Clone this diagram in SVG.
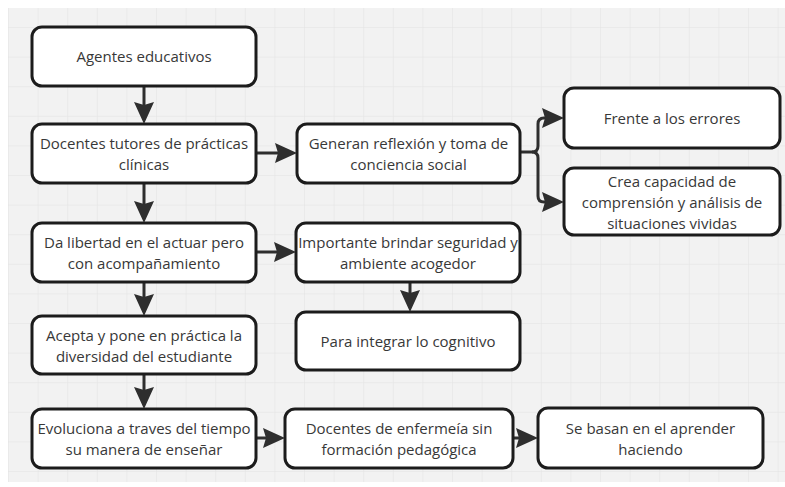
<svg xmlns="http://www.w3.org/2000/svg" width="785" height="487" viewBox="0 0 785 487">
  <defs>
    <pattern id="grid" x="8" y="27" width="29.6" height="29.6" patternUnits="userSpaceOnUse">
      <path d="M0,0 V29.6 M0,0 H29.6" fill="none" stroke="#e2e2e2" stroke-width="1"/>
    </pattern>
    <marker id="arrow" markerUnits="userSpaceOnUse" markerWidth="22" markerHeight="22" viewBox="0 0 22 22" refX="17" refY="11" orient="auto">
      <path d="M0,1 L22,11 L0,21 L3,11 Z" fill="#2e2e2e"/>
    </marker>
    <style>
      .box { fill: #ffffff; stroke: #1c1c1c; stroke-width: 3; }
      .lbl { font-family: "Open Sans", "Noto Sans", "DejaVu Sans", sans-serif; font-size: 15px; fill: #383838; text-anchor: middle; }
      .edge { fill: none; stroke: #2e2e2e; stroke-width: 3; marker-end: url(#arrow); }
      .trunk { fill: none; stroke: #2e2e2e; stroke-width: 3; }
    </style>
  </defs>

  <!-- canvas -->
  <rect x="0" y="0" width="785" height="487" fill="#ffffff"/>
  <rect x="8" y="8" width="777" height="474" fill="#f2f2f2"/>
  <rect x="8" y="8" width="777" height="474" fill="url(#grid)"/>

  <!-- connectors -->
  <g id="connectors">
    <path class="edge" d="M144,86 V119"/>
    <path class="edge" d="M144,183 V218"/>
    <path class="edge" d="M144,282 V311"/>
    <path class="edge" d="M144,374 V404"/>
    <path class="edge" d="M256,153 H292"/>
    <path class="edge" d="M256,252 H291"/>
    <path class="edge" d="M256,438 H280"/>
    <path class="edge" d="M513,438 H533"/>
    <path class="edge" d="M410,282 V307"/>
    <path class="trunk" d="M520,152 H532"/>
    <path class="edge" d="M532,152 Q538,152 538,146 V124 Q538,118 544,118 H559"/>
    <path class="edge" d="M532,152 Q538,152 538,158 V196 Q538,202 544,202 H559"/>
  </g>

  <!-- nodes -->
  <g id="n-agentes">
    <rect class="box" x="32" y="27" width="224" height="59" rx="10"/>
    <text class="lbl" x="144" y="62">Agentes educativos</text>
  </g>
  <g id="n-tutores">
    <rect class="box" x="32" y="124" width="224" height="59" rx="10"/>
    <text class="lbl" x="144" y="148.5">Docentes tutores de prácticas</text>
    <text class="lbl" x="144" y="170">clínicas</text>
  </g>
  <g id="n-libertad">
    <rect class="box" x="32" y="223" width="224" height="59" rx="10"/>
    <text class="lbl" x="144" y="247.5">Da libertad en el actuar pero</text>
    <text class="lbl" x="144" y="269">con acompañamiento</text>
  </g>
  <g id="n-acepta">
    <rect class="box" x="32" y="316" width="224" height="58" rx="10"/>
    <text class="lbl" x="144" y="340.5">Acepta y pone en práctica la</text>
    <text class="lbl" x="144" y="362">diversidad del estudiante</text>
  </g>
  <g id="n-evoluciona">
    <rect class="box" x="32" y="409" width="224" height="59" rx="10"/>
    <text class="lbl" x="144" y="433.5">Evoluciona a traves del tiempo</text>
    <text class="lbl" x="144" y="455">su manera de enseñar</text>
  </g>
  <g id="n-generan">
    <rect class="box" x="297" y="124" width="223" height="59" rx="10"/>
    <text class="lbl" x="408.5" y="148.5">Generan reflexión y toma de</text>
    <text class="lbl" x="408.5" y="170">conciencia social</text>
  </g>
  <g id="n-importante">
    <rect class="box" x="296" y="223" width="224" height="59" rx="10"/>
    <text class="lbl" x="408" y="247.5">Importante brindar seguridad y</text>
    <text class="lbl" x="408" y="269">ambiente acogedor</text>
  </g>
  <g id="n-integrar">
    <rect class="box" x="296" y="312" width="224" height="58" rx="10"/>
    <text class="lbl" x="408" y="346.5">Para integrar lo cognitivo</text>
  </g>
  <g id="n-enfermeria">
    <rect class="box" x="285" y="409" width="228" height="59" rx="10"/>
    <text class="lbl" x="399" y="433.5">Docentes de enfermeía sin</text>
    <text class="lbl" x="399" y="455">formación pedagógica</text>
  </g>
  <g id="n-basan">
    <rect class="box" x="538" y="408" width="225" height="60" rx="10"/>
    <text class="lbl" x="650.5" y="433.5">Se basan en el aprender</text>
    <text class="lbl" x="650.5" y="455">haciendo</text>
  </g>
  <g id="n-errores">
    <rect class="box" x="564" y="88" width="216" height="60" rx="10"/>
    <text class="lbl" x="672" y="123.5">Frente a los errores</text>
  </g>
  <g id="n-capacidad">
    <rect class="box" x="564" y="168" width="216" height="67" rx="10"/>
    <text class="lbl" x="672" y="187">Crea capacidad de</text>
    <text class="lbl" x="672" y="208">comprensión y análisis de</text>
    <text class="lbl" x="672" y="229">situaciones vividas</text>
  </g>
</svg>
